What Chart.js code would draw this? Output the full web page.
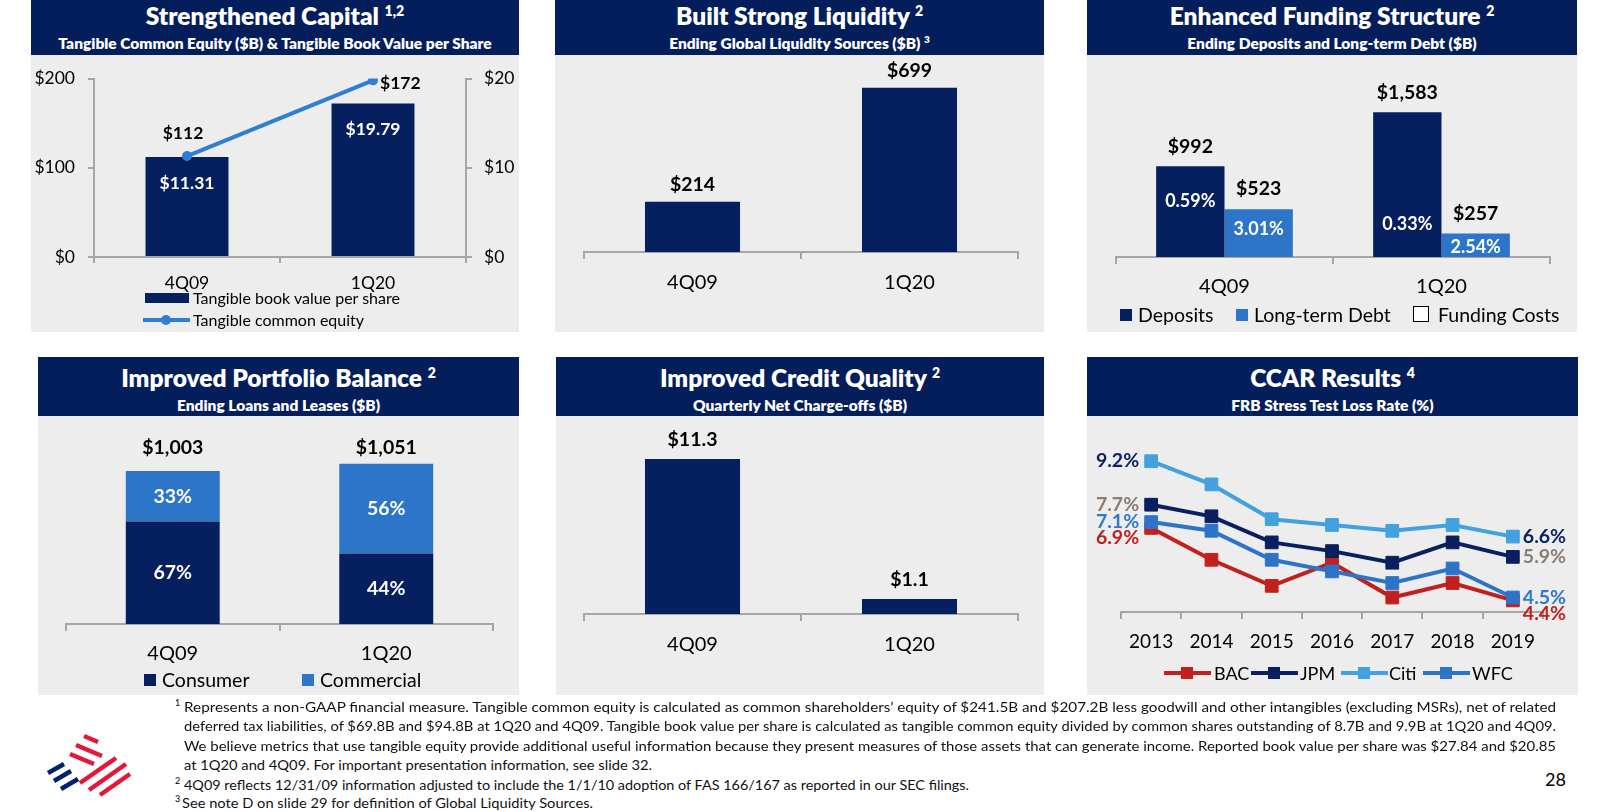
<!DOCTYPE html>
<html><head><meta charset="utf-8">
<title>Balance sheet strength</title>
<script src="https://cdn.jsdelivr.net/npm/chart.js@4.4.1/dist/chart.umd.min.js"></script>
<style>
 html,body{margin:0;padding:0;background:#fff}
 body{position:relative;width:1600px;height:812px;overflow:hidden;font-family:Lato,'Open Sans',sans-serif;color:#000}
 .hdr{position:absolute;background:#041E5B;color:#fff;font-weight:800;text-align:center}
 .hdr .t{position:absolute;left:0;right:0;font-size:24.5px;line-height:28px;white-space:nowrap}
 .hdr .s{position:absolute;left:0;right:0;font-size:15.5px;line-height:18px;white-space:nowrap}
 .hdr sup{font-size:14px;line-height:0;vertical-align:0;position:relative;top:-9px}
 .hdr .s sup{font-size:10px;top:-6px}
 .bd{position:absolute;background:#EDEDED}
 canvas{position:absolute}
 .lg{position:absolute;white-space:nowrap;line-height:22px}
 .sw{position:absolute;box-sizing:border-box}
 .fn{position:absolute;white-space:nowrap;font-size:13px;line-height:16px;transform-origin:0 50%;display:inline-block;color:#111}
 .fs{position:absolute;font-size:9px;line-height:10px}
</style></head>
<body>

<!-- Panel 1 -->
<div class="hdr" style="left:31px;top:0;width:488px;height:55px"><div class="t" style="top:2px">Strengthened Capital <sup>1,2</sup></div><div class="s" style="top:34px">Tangible Common Equity ($B) &amp; Tangible Book Value per Share</div></div>
<div class="bd" style="left:31px;top:55px;width:488px;height:277px"></div>
<canvas id="c1" width="488" height="250" style="left:31px;top:55px"></canvas>
<div class="sw" style="left:145px;top:293px;width:44px;height:10px;background:#061F5E"></div>
<div class="lg" style="left:193px;top:287px;font-size:16px">Tangible book value per share</div>
<div class="sw" style="left:143px;top:318px;width:47px;height:4px;background:#2F7ED3"></div>
<div class="sw" style="left:161px;top:315px;width:10px;height:10px;border-radius:50%;background:#2F7ED3"></div>
<div class="lg" style="left:193px;top:309px;font-size:16px">Tangible common equity</div>

<!-- Panel 2 -->
<div class="hdr" style="left:555px;top:0;width:489px;height:55px"><div class="t" style="top:2px">Built Strong Liquidity <sup>2</sup></div><div class="s" style="top:34px">Ending Global Liquidity Sources ($B) <sup>3</sup></div></div>
<div class="bd" style="left:555px;top:55px;width:489px;height:277px"></div>
<canvas id="c2" width="489" height="255" style="left:555px;top:55px"></canvas>

<!-- Panel 3 -->
<div class="hdr" style="left:1087px;top:0;width:490px;height:55px"><div class="t" style="top:2px">Enhanced Funding Structure <sup>2</sup></div><div class="s" style="top:34px">Ending Deposits and Long-term Debt ($B)</div></div>
<div class="bd" style="left:1087px;top:55px;width:490px;height:277px"></div>
<canvas id="c3" width="490" height="250" style="left:1087px;top:55px"></canvas>
<div class="sw" style="left:1120px;top:309px;width:12px;height:12px;background:#061F5E"></div>
<div class="lg" style="left:1138px;top:304px;font-size:19.5px">Deposits</div>
<div class="sw" style="left:1236px;top:309px;width:12px;height:12px;background:#2D75C9"></div>
<div class="lg" style="left:1254px;top:304px;font-size:19.5px">Long-term Debt</div>
<div class="sw" style="left:1413px;top:306px;width:16px;height:16px;background:#fff;border:1.5px solid #000"></div>
<div class="lg" style="left:1438px;top:304px;font-size:19.5px">Funding Costs</div>

<!-- Panel 4 -->
<div class="hdr" style="left:38px;top:357px;width:481px;height:59px"><div class="t" style="top:7px">Improved Portfolio Balance <sup>2</sup></div><div class="s" style="top:39px">Ending Loans and Leases ($B)</div></div>
<div class="bd" style="left:38px;top:416px;width:481px;height:279px"></div>
<canvas id="c4" width="481" height="260" style="left:38px;top:416px"></canvas>
<div class="sw" style="left:144px;top:674px;width:12px;height:12px;background:#061F5E"></div>
<div class="lg" style="left:162px;top:669px;font-size:19.5px">Consumer</div>
<div class="sw" style="left:302px;top:674px;width:12px;height:12px;background:#2D75C9"></div>
<div class="lg" style="left:320px;top:669px;font-size:19.5px">Commercial</div>

<!-- Panel 5 -->
<div class="hdr" style="left:556px;top:357px;width:488px;height:59px"><div class="t" style="top:7px">Improved Credit Quality <sup>2</sup></div><div class="s" style="top:39px">Quarterly Net Charge-offs ($B)</div></div>
<div class="bd" style="left:556px;top:416px;width:488px;height:279px"></div>
<canvas id="c5" width="488" height="260" style="left:556px;top:416px"></canvas>

<!-- Panel 6 -->
<div class="hdr" style="left:1087px;top:357px;width:491px;height:59px"><div class="t" style="top:7px">CCAR Results <sup>4</sup></div><div class="s" style="top:39px">FRB Stress Test Loss Rate (%)</div></div>
<div class="bd" style="left:1087px;top:416px;width:491px;height:279px"></div>
<canvas id="c6" width="491" height="250" style="left:1087px;top:416px"></canvas>
<div class="sw" style="left:1164px;top:671px;width:47px;height:4px;background:#C0211F"></div><div class="sw" style="left:1181px;top:667px;width:12px;height:12px;background:#C0211F"></div>
<div class="lg" style="left:1214px;top:662px;font-size:18px">BAC</div>
<div class="sw" style="left:1251px;top:671px;width:47px;height:4px;background:#0A1F5E"></div><div class="sw" style="left:1268px;top:667px;width:12px;height:12px;background:#0A1F5E"></div>
<div class="lg" style="left:1300px;top:662px;font-size:18px">JPM</div>
<div class="sw" style="left:1341px;top:671px;width:47px;height:4px;background:#42A1DE"></div><div class="sw" style="left:1358px;top:667px;width:12px;height:12px;background:#42A1DE"></div>
<div class="lg" style="left:1389px;top:662px;font-size:18px">Citi</div>
<div class="sw" style="left:1423px;top:671px;width:47px;height:4px;background:#2D74C9"></div><div class="sw" style="left:1440px;top:667px;width:12px;height:12px;background:#2D74C9"></div>
<div class="lg" style="left:1472px;top:662px;font-size:18px">WFC</div>

<!-- Logo -->
<svg style="position:absolute;left:44px;top:733px" width="90" height="66" viewBox="0 0 90 66">
 <g stroke="#012169" stroke-width="4.5" stroke-linecap="butt">
  <line x1="4" y1="40" x2="20" y2="31"/>
  <line x1="10" y1="48" x2="27" y2="38"/>
  <line x1="17" y1="56" x2="34" y2="46"/>
 </g>
 <g stroke="#E31837" stroke-width="4.5" stroke-linecap="butt">
  <line x1="40" y1="3" x2="54" y2="9"/>
  <line x1="32" y1="12" x2="58" y2="23"/>
  <line x1="26" y1="21" x2="50" y2="31"/>
  <line x1="36" y1="50" x2="72" y2="25"/>
  <line x1="45" y1="57" x2="82" y2="31"/>
  <line x1="56" y1="62" x2="86" y2="41"/>
 </g>
</svg>

<!-- Footnotes -->
<div class="fs" style="left:175px;top:698px">1</div>
<div class="fn" data-w="1372" style="left:184px;top:699px">Represents a non-GAAP financial measure. Tangible common equity is calculated as common shareholders’ equity of $241.5B and $207.2B less goodwill and other intangibles (excluding MSRs), net of related</div>
<div class="fn" data-w="1372" style="left:184px;top:718px">deferred tax liabilities, of $69.8B and $94.8B at 1Q20 and 4Q09. Tangible book value per share is calculated as tangible common equity divided by common shares outstanding of 8.7B and 9.9B at 1Q20 and 4Q09.</div>
<div class="fn" data-w="1372" style="left:184px;top:738px">We believe metrics that use tangible equity provide additional useful information because they present measures of those assets that can generate income. Reported book value per share was $27.84 and $20.85</div>
<div class="fn" data-w="468" style="left:184px;top:757px">at 1Q20 and 4Q09. For important presentation information, see slide 32.</div>
<div class="fs" style="left:175px;top:776px">2</div>
<div class="fn" data-w="785" style="left:184px;top:777px">4Q09 reflects 12/31/09 information adjusted to include the 1/1/10 adoption of FAS 166/167 as reported in our SEC filings.</div>
<div class="fs" style="left:175px;top:794px">3</div>
<div class="fn" data-w="411" style="left:182px;top:795px">See note D on slide 29 for definition of Global Liquidity Sources.</div>
<div class="lg" style="left:1545px;top:768px;font-size:18px">28</div>

<script>
// ---------- DATA ----------
const quarters = ['4Q09', '1Q20'];
const tangibleCommonEquity = [112, 172];          // $B
const tangibleBookValuePerShare = [11.31, 19.79]; // $
const capitalLeftTicks = [0, 100, 200];
const capitalRightTicks = [0, 10, 20];
const globalLiquiditySources = [214, 699];
const deposits = [992, 1583];
const longTermDebt = [523, 257];
const depositFundingCost = [0.59, 0.33];
const longTermDebtFundingCost = [3.01, 2.54];
const loansTotal = [1003, 1051];
const consumerLoans = [672, 462];
const commercialLoans = [331, 589];
const consumerShare = [67, 44];
const commercialShare = [33, 56];
const netChargeOffs = [11.3, 1.1];
const ccarYears = ['2013', '2014', '2015', '2016', '2017', '2018', '2019'];
const bacLossRate  = [6.9, 5.8, 4.9, 5.7, 4.5, 5.0, 4.4];
const jpmLossRate  = [7.7, 7.3, 6.4, 6.1, 5.7, 6.4, 5.9];
const citiLossRate = [9.2, 8.4, 7.2, 7.0, 6.8, 7.0, 6.6];
const wfcLossRate  = [7.1, 6.8, 5.8, 5.4, 5.0, 5.5, 4.5];

// ---------- STYLE ----------
const NAVY = '#061F5E', MED = '#2D75C9', LINE1 = '#2F7ED3', AXIS = '#A6A6A6';
const C_BAC = '#C0211F', C_JPM = '#0A1F5E', C_CITI = '#42A1DE', C_WFC = '#2D74C9';
const RANK_COLORS = ['#0B2264', '#8B7D72', '#2E78CF', '#C0211F'];
const FONT = "Lato, 'Open Sans', sans-serif";
Chart.defaults.font.family = FONT;
Chart.defaults.color = '#000';

function txt(ctx, s, x, y, o = {}) {
  const size = o.size || 19.5;
  ctx.font = (o.bold === false ? '' : '700 ') + size + 'px ' + FONT;
  ctx.fillStyle = o.color || '#000';
  ctx.textAlign = o.align || 'center';
  ctx.textBaseline = 'middle';
  ctx.fillText(s, x, y);
}
const money = v => '$' + v.toLocaleString('en-US');
const base = (pad) => ({
  responsive: false, animation: false, devicePixelRatio: 1,
  layout: { padding: pad },
  plugins: { legend: { display: false }, tooltip: { enabled: false } }
});
function xAxis(h, size, pad, tl) {
  return {
    offset: true,
    grid: { offset: true, drawOnChartArea: false, drawTicks: true, tickLength: tl, color: AXIS, lineWidth: 2 },
    border: { color: AXIS, width: 2 },
    ticks: { font: { size: size }, padding: pad, color: '#000', autoSkip: false, maxRotation: 0 },
    afterFit: s => { s.height = h; }
  };
}
function labels(id, fn) {
  return { id: id, afterDatasetsDraw(chart) { const ctx = chart.ctx; ctx.save(); fn(chart, ctx); ctx.restore(); } };
}

// ---------- Chart 1: Strengthened Capital ----------
new Chart(document.getElementById('c1'), {
  type: 'bar',
  data: {
    labels: quarters,
    datasets: [
      { type: 'line', label: 'Tangible common equity', data: tangibleBookValuePerShare, yAxisID: 'y1',
        borderColor: LINE1, backgroundColor: LINE1, borderWidth: 4, pointRadius: 5, pointHoverRadius: 5,
        pointBackgroundColor: LINE1, pointBorderWidth: 0, order: 0 },
      { type: 'bar', label: 'Tangible book value per share', data: tangibleCommonEquity, yAxisID: 'y',
        backgroundColor: NAVY, barPercentage: 0.446, categoryPercentage: 1, order: 1 }
    ]
  },
  options: Object.assign(base({ top: 19, left: 0, right: 0, bottom: 0 }), {
    scales: {
      x: xAxis(48, 17.5, 9.5, 6),
      y: { position: 'left', min: 0, max: 200,
           afterBuildTicks: s => { s.ticks = capitalLeftTicks.map(v => ({ value: v })); },
           ticks: { callback: v => '$' + v, font: { size: 17.5 }, padding: 13, color: '#000' },
           grid: { drawOnChartArea: false, tickLength: 6, color: AXIS, lineWidth: 2 },
           border: { color: AXIS, width: 2 }, afterFit: s => { s.width = 63; } },
      y1: { position: 'right', min: 0, max: 20,
           afterBuildTicks: s => { s.ticks = capitalRightTicks.map(v => ({ value: v })); },
           ticks: { callback: v => '$' + v, font: { size: 17.5 }, padding: 12, color: '#000' },
           grid: { drawOnChartArea: false, tickLength: 6, color: AXIS, lineWidth: 2 },
           border: { color: AXIS, width: 2 }, afterFit: s => { s.width = 53; } }
    }
  }),
  plugins: [labels('l1', (chart, ctx) => {
    const pts = chart.getDatasetMeta(0).data, bars = chart.getDatasetMeta(1).data;
    txt(ctx, money(tangibleCommonEquity[0]), pts[0].x - 4, pts[0].y - 23, { size: 17.5 });
    txt(ctx, money(tangibleCommonEquity[1]), pts[1].x + 7, pts[1].y + 3, { size: 17.5, align: 'left' });
    bars.forEach((b, i) => txt(ctx, '$' + tangibleBookValuePerShare[i].toFixed(2), b.x, b.y + 26, { size: 17.5, color: '#fff' }));
  })]
});

// ---------- Chart 2: Liquidity ----------
new Chart(document.getElementById('c2'), {
  type: 'bar',
  data: { labels: quarters, datasets: [{ data: globalLiquiditySources, backgroundColor: NAVY, barPercentage: 0.438, categoryPercentage: 1 }] },
  options: Object.assign(base({ top: 9, left: 29, right: 26, bottom: 0 }), {
    scales: { x: xAxis(58, 20, 12, 7), y: { display: false, min: 0, max: 800 } }
  }),
  plugins: [labels('l2', (chart, ctx) => {
    chart.getDatasetMeta(0).data.forEach((b, i) => txt(ctx, money(globalLiquiditySources[i]), b.x, b.y - 17));
  })]
});

// ---------- Chart 3: Funding ----------
const depFrac = [0.61, 0.23], ltdFrac = [0.58, 0.43];
new Chart(document.getElementById('c3'), {
  type: 'bar',
  data: { labels: quarters, datasets: [
    { label: 'Deposits', data: deposits, backgroundColor: NAVY, barPercentage: 1, categoryPercentage: 0.63 },
    { label: 'Long-term Debt', data: longTermDebt, backgroundColor: MED, barPercentage: 1, categoryPercentage: 0.63 }
  ] },
  options: Object.assign(base({ top: 10, left: 29, right: 27, bottom: 0 }), {
    scales: { x: xAxis(48, 20, 11, 7), y: { display: false, min: 0, max: 2100 } }
  }),
  plugins: [labels('l3', (chart, ctx) => {
    const d = chart.getDatasetMeta(0).data, l = chart.getDatasetMeta(1).data;
    d.forEach((b, i) => {
      txt(ctx, money(deposits[i]), b.x, b.y - 20);
      txt(ctx, depositFundingCost[i].toFixed(2) + '%', b.x, b.base - (b.base - b.y) * depFrac[i], { size: 18, color: '#fff' });
    });
    l.forEach((b, i) => {
      txt(ctx, money(longTermDebt[i]), b.x, b.y - 20);
      txt(ctx, longTermDebtFundingCost[i].toFixed(2) + '%', b.x, b.base - (b.base - b.y) * ltdFrac[i], { size: 18, color: '#fff' });
    });
  })]
});

// ---------- Chart 4: Portfolio ----------
new Chart(document.getElementById('c4'), {
  type: 'bar',
  data: { labels: quarters, datasets: [
    { label: 'Consumer', data: consumerLoans, backgroundColor: NAVY, barPercentage: 0.44, categoryPercentage: 1 },
    { label: 'Commercial', data: commercialLoans, backgroundColor: MED, barPercentage: 0.44, categoryPercentage: 1 }
  ] },
  options: Object.assign(base({ top: 25, left: 28, right: 26, bottom: 0 }), {
    scales: { x: Object.assign(xAxis(52, 20, 11, 7), { stacked: true }), y: { display: false, stacked: true, min: 0, max: 1200 } }
  }),
  plugins: [labels('l4', (chart, ctx) => {
    const c = chart.getDatasetMeta(0).data, m = chart.getDatasetMeta(1).data;
    const ty = chart.scales.y.getPixelForValue(Math.max(...loansTotal)) - 16;
    c.forEach((b, i) => {
      txt(ctx, money(loansTotal[i]), b.x, ty);
      txt(ctx, consumerShare[i] + '%', b.x, (b.y + b.base) / 2, { color: '#fff' });
    });
    m.forEach((b, i) => txt(ctx, commercialShare[i] + '%', b.x, (b.y + b.base) / 2, { color: '#fff' }));
  })]
});

// ---------- Chart 5: Credit quality ----------
new Chart(document.getElementById('c5'), {
  type: 'bar',
  data: { labels: quarters, datasets: [{ data: netChargeOffs, backgroundColor: NAVY, barPercentage: 0.438, categoryPercentage: 1 }] },
  options: Object.assign(base({ top: 6, left: 28, right: 26, bottom: 0 }), {
    scales: { x: xAxis(62, 20, 12, 7), y: { display: false, min: 0, max: 14 } }
  }),
  plugins: [labels('l5', (chart, ctx) => {
    chart.getDatasetMeta(0).data.forEach((b, i) => txt(ctx, '$' + netChargeOffs[i].toFixed(1), b.x, b.y - 19));
  })]
});

// ---------- Chart 6: CCAR ----------
const ccarSeries = [
  { label: 'BAC', data: bacLossRate, color: C_BAC, order: 3 },
  { label: 'JPM', data: jpmLossRate, color: C_JPM, order: 2 },
  { label: 'Citi', data: citiLossRate, color: C_CITI, order: 1 },
  { label: 'WFC', data: wfcLossRate, color: C_WFC, order: 0 }
];
new Chart(document.getElementById('c6'), {
  type: 'line',
  data: { labels: ccarYears, datasets: ccarSeries.map(s => ({
    label: s.label, data: s.data, order: s.order, borderColor: s.color, backgroundColor: s.color,
    borderWidth: 4, tension: 0, pointStyle: 'rect', pointRadius: 9, pointHoverRadius: 9,
    pointBackgroundColor: s.color, pointBorderColor: s.color, pointBorderWidth: 1, clip: false
  })) },
  options: Object.assign(base({ top: 22, left: 34, right: 35, bottom: 0 }), {
    scales: { x: xAxis(54, 19, 11.6, 7), y: { display: false, min: 4, max: 10 } }
  }),
  plugins: [labels('l6', (chart, ctx) => {
    const xs = chart.scales.x, ys = chart.scales.y;
    const side = (idx, x, align) => {
      const vals = ccarSeries.map(s => s.data[idx]).sort((a, b) => b - a);
      let prev = -1e9;
      vals.forEach((v, r) => {
        let y = ys.getPixelForValue(v);
        if (y < prev + 16) y = prev + 16;
        prev = y;
        txt(ctx, v.toFixed(1) + '%', x, y, { color: RANK_COLORS[r], align: align });
      });
    };
    side(0, xs.getPixelForValue(0) - 12, 'right');
    side(ccarYears.length - 1, xs.getPixelForValue(ccarYears.length - 1) + 10, 'left');
  })]
});

// ---------- fit footnote lines ----------
document.querySelectorAll('.fn').forEach(el => {
  const w = el.getBoundingClientRect().width;
  el.style.transform = 'scaleX(' + (+el.dataset.w / w) + ')';
});
</script>
</body></html>
